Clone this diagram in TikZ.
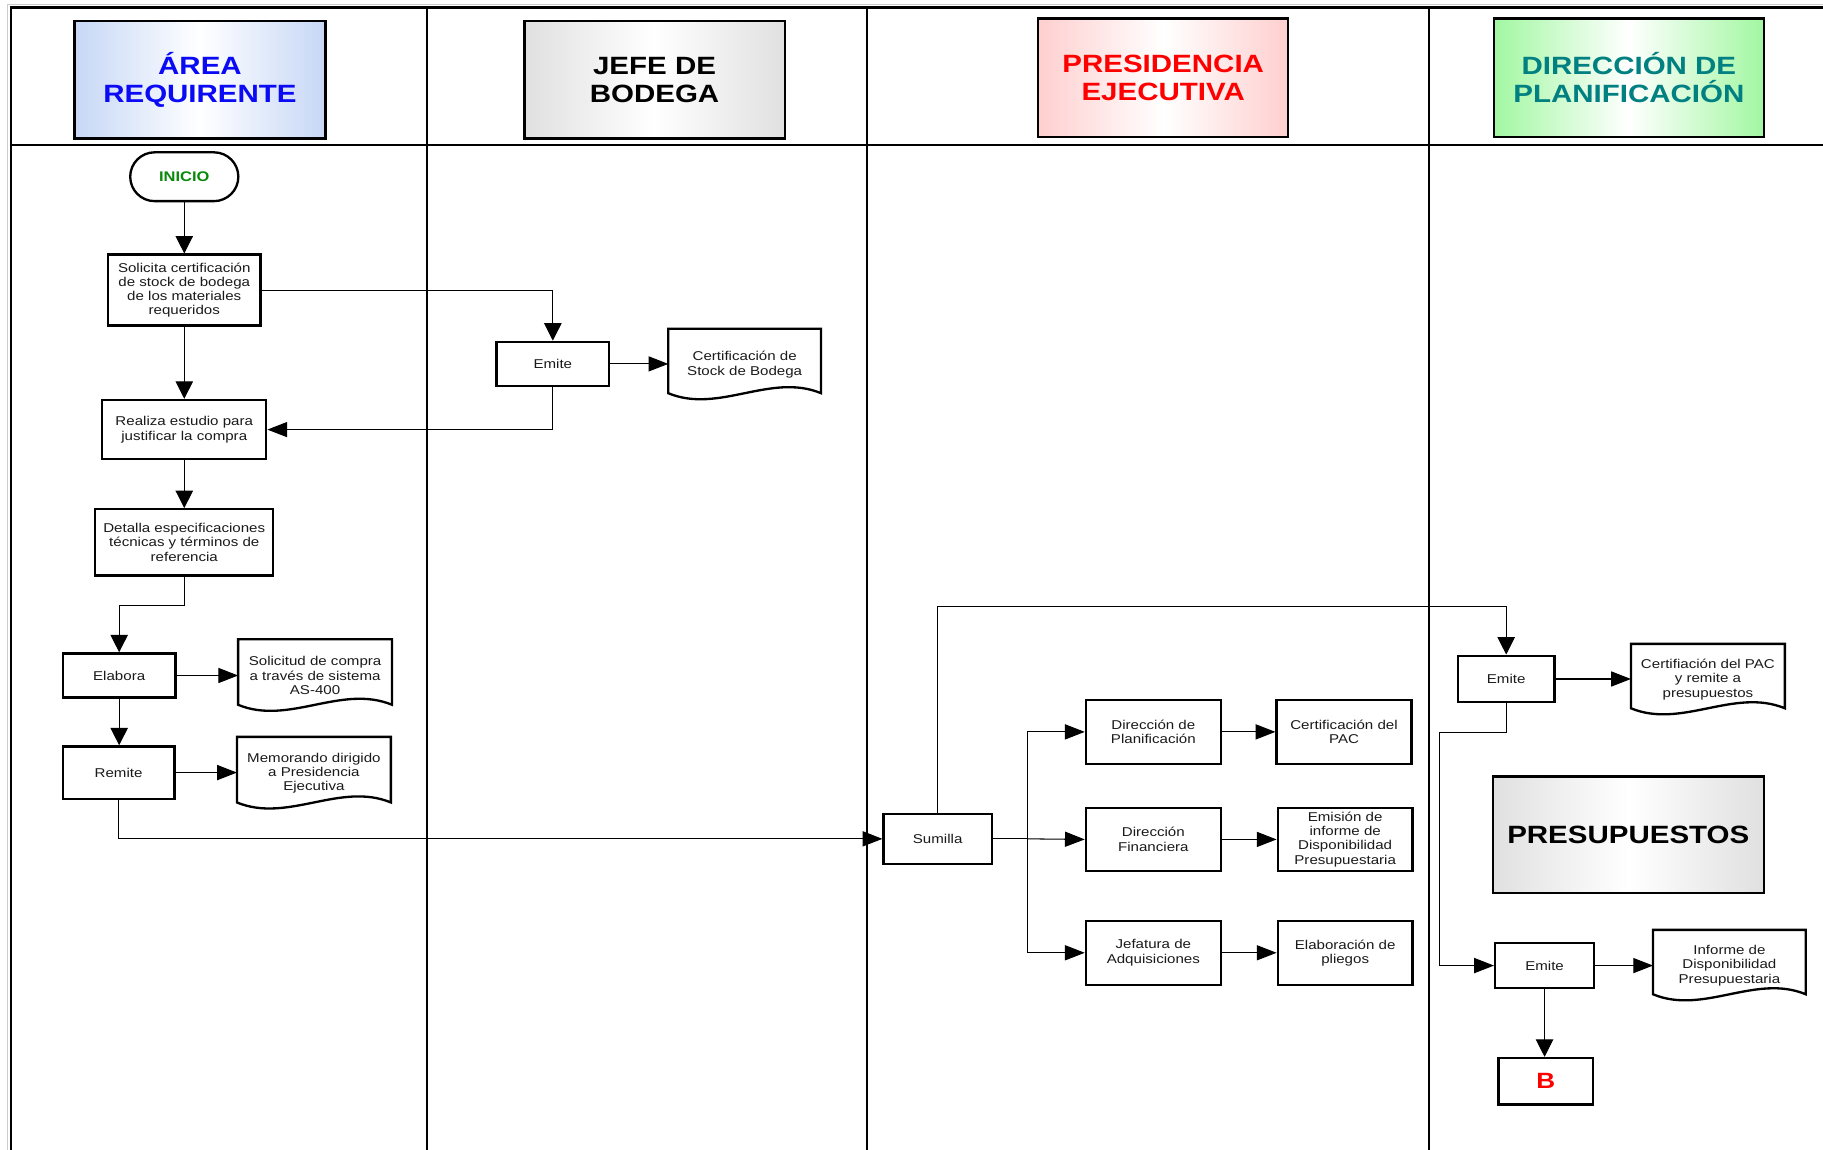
\documentclass[tikz,border=0pt]{standalone}
\usepackage{fontspec}
\setmainfont[FakeStretch=1.18]{Liberation Sans}
\usetikzlibrary{arrows.meta,calc}

\definecolor{hdrblue}{HTML}{C6D7F6}
\definecolor{hdrgray}{HTML}{E0E0E0}
\definecolor{hdrpink}{HTML}{FFCFCF}
\definecolor{hdrgreen}{HTML}{A2F7A2}
\definecolor{txtblue}{HTML}{0A0AF5}
\definecolor{txtred}{HTML}{FF0000}
\definecolor{txtteal}{HTML}{008080}
\definecolor{txtgreen}{HTML}{0A8A0A}
\definecolor{ink}{HTML}{1A1A1A}

% document symbol: straight top and sides, wavy bottom
% (the text node sits 3pt low inside the outline)
\newcommand\drawdoc[1]{%
  \draw[docline] ($(#1.south west)+(0,-3)$) -- ($(#1.north west)+(0,-3)$)
    -- ($(#1.north east)+(0,-3)$) -- ($(#1.south east)+(0,-3)$)
    .. controls ($(#1.south east)!0.33!(#1.south west)+(0,-21)$)
           and ($(#1.south east)!0.67!(#1.south west)+(0,15)$) .. ($(#1.south west)+(0,-3)$) -- cycle;}

\begin{document}
\begin{tikzpicture}[x=1pt,y=-1pt,
  lane/.style={line width=2pt, black},
  hdr/.style={draw=black, line width=2pt, inner sep=0pt, align=center,
    font=\fontsize{21.5}{24}\selectfont\bfseries,
    left color=#1, right color=#1, middle color=white},
  box/.style={draw=black, line width=2pt, fill=white, inner sep=2pt, align=center,
    text=ink, font=\fontsize{11}{12.3}\selectfont},
  doc/.style={inner sep=2pt, align=center, text=ink, yshift=-3pt,
    font=\fontsize{11}{12.3}\selectfont},
  docline/.style={draw=black, line width=2pt, line join=miter},
  conn/.style={line width=0.9pt, black},
  arrv/.style={conn, -{Triangle[length=15pt,width=15pt]}},
  arrh/.style={conn, -{Triangle[length=17pt,width=13pt]}},
]
\useasboundingbox (0,0) rectangle (1568,989);

% ---- swimlane frame ----
\draw[gray!40, line width=1pt] (6.5,989) -- (6.5,4) -- (1568,4);
\draw[lane] (9.5,989) -- (9.5,6.5) -- (1568,6.5);
\draw[lane] (9.5,124.5) -- (1568,124.5);
\foreach \x in {367,746,1229} \draw[lane] (\x,6.5) -- (\x,989);

% ---- lane headers ----
\node[hdr=hdrblue, text=txtblue, minimum width=216pt, minimum height=101pt] (hA) at (172,68.5) {ÁREA\\REQUIRENTE};
\node[hdr=hdrgray, text=black, minimum width=224pt, minimum height=101pt] (hB) at (563,68.5) {JEFE DE\\BODEGA};
\node[hdr=hdrpink, text=txtred, minimum width=215pt, minimum height=102pt] (hC) at (1000.5,67) {PRESIDENCIA\\EJECUTIVA};
\node[hdr=hdrgreen, text=txtteal, minimum width=232pt, minimum height=102pt] (hD) at (1401,67) {DIRECCIÓN DE\\PLANIFICACIÓN};

% ---- Área requirente ----
\node[box, rounded corners=21pt, minimum width=93pt, minimum height=42pt, text=txtgreen,
      font=\fontsize{12}{14}\selectfont\bfseries] (inicio) at (158.5,152) {INICIO};
\node[box, minimum width=131pt, minimum height=61pt] (solic) at (158.5,249.5)
  {Solicita certificación\\de stock de bodega\\de los materiales\\requeridos};
\node[box, minimum width=141pt, minimum height=51pt] (realiza) at (158.5,369.5)
  {Realiza estudio para\\justificar la compra};
\node[box, minimum width=153pt, minimum height=57pt] (detalla) at (158.5,466.5)
  {Detalla especificaciones\\técnicas y términos de\\referencia};
\node[box, minimum width=97pt, minimum height=38pt] (elabora) at (102.5,581) {Elabora};
\node[doc, minimum width=132pt, minimum height=56pt] (doc1) at (271,578)
  {Solicitud de compra\\a través de sistema\\AS-400};
\node[box, minimum width=96pt, minimum height=45pt] (remite) at (102,664.5) {Remite};
\node[doc, minimum width=132pt, minimum height=56pt] (doc2) at (270,662)
  {Memorando dirigido\\a Presidencia\\Ejecutiva};

% ---- Jefe de bodega ----
\node[box, minimum width=97pt, minimum height=38pt] (emite1) at (475.5,313) {Emite};
\node[doc, minimum width=131pt, minimum height=55pt] (doc3) at (640.5,310.5)
  {Certificación de\\Stock de Bodega};

% ---- Presidencia ejecutiva ----
\node[box, minimum width=93pt, minimum height=43pt] (sumilla) at (806.5,721.5) {Sumilla};
\node[box, minimum width=116pt, minimum height=55pt] (dirplan) at (992,629.5) {Dirección de\\Planificación};
\node[box, minimum width=116pt, minimum height=55pt] (certpac) at (1156,629.5) {Certificación del\\PAC};
\node[box, minimum width=116pt, minimum height=54pt] (dirfin) at (992,722) {Dirección\\Financiera};
\node[box, minimum width=116pt, minimum height=54pt] (emision) at (1157,722)
  {Emisión de\\informe de\\Disponibilidad\\Presupuestaria};
\node[box, minimum width=116pt, minimum height=55pt] (jefat) at (992,819.5) {Jefatura de\\Adquisiciones};
\node[box, minimum width=116pt, minimum height=55pt] (elabpl) at (1157,819.5) {Elaboración de\\pliegos};

% ---- Dirección de planificación / presupuestos ----
\node[box, minimum width=83pt, minimum height=40pt] (emite2) at (1295.5,584) {Emite};
\node[doc, minimum width=132pt, minimum height=55pt] (doc4) at (1469,581.5)
  {Certifiación del PAC\\y remite a\\presupuestos};
\node[hdr=hdrgray, text=black, minimum width=233pt, minimum height=100pt] (presup) at (1400.5,718) {PRESUPUESTOS};
\node[box, minimum width=85pt, minimum height=39pt] (emite3) at (1328.5,830.5) {Emite};
\node[doc, minimum width=131pt, minimum height=55pt] (doc5) at (1487.5,827.5)
  {Informe de\\Disponibilidad\\Presupuestaria};
\node[box, minimum width=81pt, minimum height=40pt, text=txtred,
      font=\fontsize{19}{21}\selectfont\bfseries] (bnode) at (1329.5,930) {B};

% document outlines
\foreach \d in {doc1,doc2,doc3,doc4,doc5} {\drawdoc{\d}}

% ---- connectors ----
\draw[arrv] (inicio) -- (solic);
\draw[arrv] (solic) -- (realiza);
\draw[arrv] (realiza) -- (detalla);
\draw[arrv] (detalla.south) -- ++(0,25) -| (elabora.north);
\draw[arrh] (elabora) -- (elabora -| doc1.west);
\draw[arrv] (elabora.south) -- (elabora.south |- remite.north);
\draw[arrh] (remite) -- (remite -| doc2.west);
\draw[arrh] (remite.south) |- (sumilla.west);

\draw[arrv] (solic.east) -| (emite1.north);
\draw[arrh] (emite1) -- (emite1 -| doc3.west);
\draw[arrh] (emite1.south) |- (realiza.east);

\draw[arrv] (sumilla.north) |- ($(emite2.north)+(0,-41)$) -- (emite2.north);
\coordinate (fork) at (884,721.5);
\draw[conn] (sumilla.east) -- (fork);
\draw[arrh] (fork) |- (dirplan.west);
\draw[arrh] (fork) -- (dirfin.west);
\draw[arrh] (fork) |- (jefat.west);
\draw[arrh] (dirplan) -- (certpac);
\draw[arrh] (dirfin) -- (emision);
\draw[arrh] (jefat) -- (elabpl);

\draw[arrh] (emite2) -- (emite2 -| doc4.west);
\coordinate (bend) at (1238,630);
\draw[arrh] (emite2.south) |- (bend) |- (emite3.west);
\draw[arrh] (emite3) -- (emite3 -| doc5.west);
\draw[arrv] (emite3.south) -- (emite3.south |- bnode.north);

\end{tikzpicture}
\end{document}
